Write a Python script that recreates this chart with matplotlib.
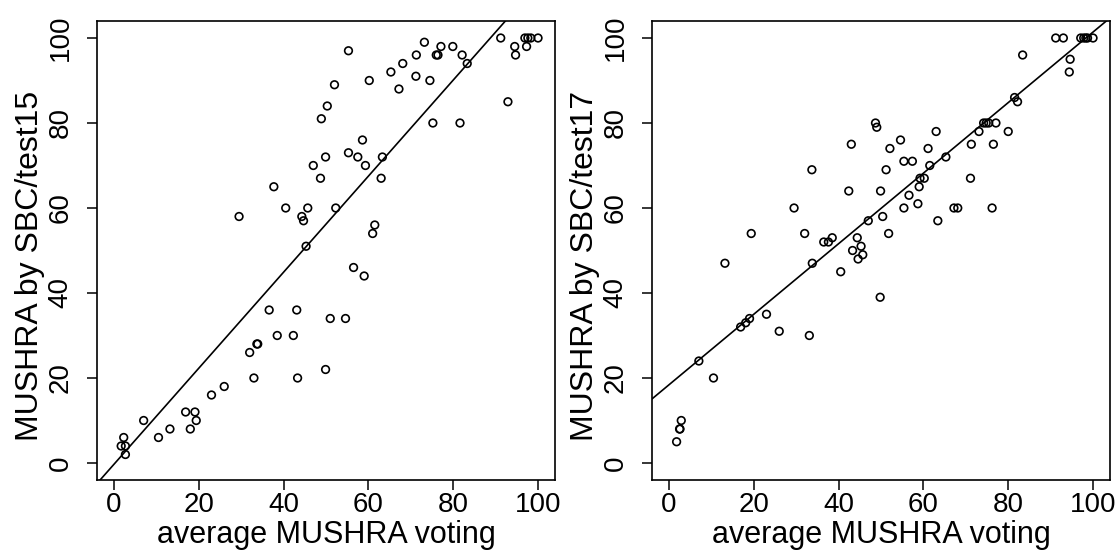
import matplotlib
matplotlib.use("Agg")
import matplotlib.pyplot as plt
import numpy as np

plt.rcParams['font.family'] = ['Liberation Sans', 'DejaVu Sans']

# Left panel: average MUSHRA voting vs MUSHRA by SBC/test15
avg15 = [1.7, 2.7, 2.7, 2.3, 7.0, 10.5, 13.2, 16.9, 18.0, 19.1, 19.4, 23.0, 26.0, 29.5,
         32.0, 33.0, 33.7, 33.9, 36.6, 37.7, 38.5, 40.5, 42.3, 43.1, 43.3, 44.3, 44.7,
         45.3, 45.7, 47.0, 48.7, 48.9, 49.9, 49.9, 50.3, 51.0, 52.0, 52.3, 54.6, 55.3,
         55.3, 56.5, 57.5, 58.6, 59.0, 59.3, 60.2, 61.0, 61.5, 63.0, 63.3, 65.3, 67.2,
         68.1, 71.2, 71.3, 73.2, 74.5, 75.2, 76.0, 76.4, 77.1, 79.9, 81.6, 82.1, 83.3,
         91.2, 92.9, 94.5, 94.7, 96.9, 97.3, 97.6, 98.3, 100.0]
sbc15 = [4, 4, 2, 6, 10, 6, 8, 12, 8, 12, 10, 16, 18, 58,
         26, 20, 28, 28, 36, 65, 30, 60, 30, 36, 20, 58, 57,
         51, 60, 70, 67, 81, 72, 22, 84, 34, 89, 60, 34, 97,
         73, 46, 72, 76, 44, 70, 90, 54, 56, 67, 72, 92, 88,
         94, 91, 96, 99, 90, 80, 96, 96, 98, 98, 80, 96, 94,
         100, 85, 98, 96, 100, 98, 100, 100, 100]
line15 = (-0.3, 1.13)  # intercept, slope

# Right panel: average MUSHRA voting vs MUSHRA by SBC/test17
avg17 = [1.8, 2.5, 2.6, 2.9, 7.05, 10.5, 13.2, 16.9, 18.1, 19.0, 19.4, 23.0, 26.0, 29.5,
         32.0, 33.1, 33.7, 33.8, 36.5, 37.6, 38.5, 40.5, 42.4, 43.0, 43.3, 44.4, 44.6,
         45.3, 45.7, 47.0, 48.7, 49.0, 49.8, 49.9, 50.4, 51.2, 51.8, 52.1, 54.6, 55.4,
         55.4, 56.6, 57.4, 58.7, 59.0, 59.2, 60.2, 61.1, 61.5, 63.0, 63.4, 65.3, 67.2,
         68.1, 71.1, 71.3, 73.1, 74.2, 74.8, 75.4, 76.2, 76.5, 77.1, 80.0, 81.5, 82.2,
         83.4, 91.2, 93.0, 94.4, 94.6, 97.1, 97.8, 98.3, 98.7, 100.0]
sbc17 = [5, 8, 8, 10, 24, 20, 47, 32, 33, 34, 54, 35, 31, 60,
         54, 30, 69, 47, 52, 52, 53, 45, 64, 75, 50, 53, 48,
         51, 49, 57, 80, 79, 39, 64, 58, 69, 54, 74, 76, 71,
         60, 63, 71, 61, 65, 67, 67, 74, 70, 78, 57, 72, 60,
         60, 67, 75, 78, 80, 80, 80, 60, 75, 80, 78, 86, 85,
         96, 100, 100, 92, 95, 100, 100, 100, 100, 100]
line17 = (18.4, 0.83)

xlabel = "average MUSHRA voting"
ylabels = ["MUSHRA by SBC/test15", "MUSHRA by SBC/test17"]
ticks = [0, 20, 40, 60, 80, 100]

fig = plt.figure(figsize=(11.2, 5.56), dpi=100)
axes = [fig.add_axes([97/1120, 76/556, 458/1120, 459/556]),
        fig.add_axes([652/1120, 76/556, 458/1120, 459/556])]

TFS = 20
XLFS = 22
YLFS = 23
for ax, xs, ys, (b0, b1), yl in zip(axes, [avg15, avg17], [sbc15, sbc17],
                                     [line15, line17], ylabels):
    ax.scatter(xs, ys, s=30, facecolors='none', edgecolors='black', linewidths=1.2, zorder=3)
    xx = np.array([-10, 110])
    ax.plot(xx, b0 + b1 * xx, color='black', lw=1.2, zorder=2)
    ax.set_xlim(-4, 104)
    ax.set_ylim(-4, 104)
    ax.set_xticks(ticks)
    ax.set_yticks(ticks)
    ax.set_xticklabels([str(t) for t in ticks], fontsize=TFS)
    ax.set_yticklabels([str(t) for t in ticks], fontsize=TFS, rotation=90, va='center')
    ax.tick_params(direction='out', length=7, width=1.1)
    ax.tick_params(axis='x', pad=2)
    ax.tick_params(axis='y', pad=10)
    for s in ax.spines.values():
        s.set_linewidth(1.2)
    ax.set_xlabel(xlabel, fontsize=XLFS, labelpad=1)
    ax.set_ylabel(yl, fontsize=YLFS)
    ax.yaxis.set_label_coords(-0.1135, 0.466)

fig.savefig("out.png", dpi=100)
